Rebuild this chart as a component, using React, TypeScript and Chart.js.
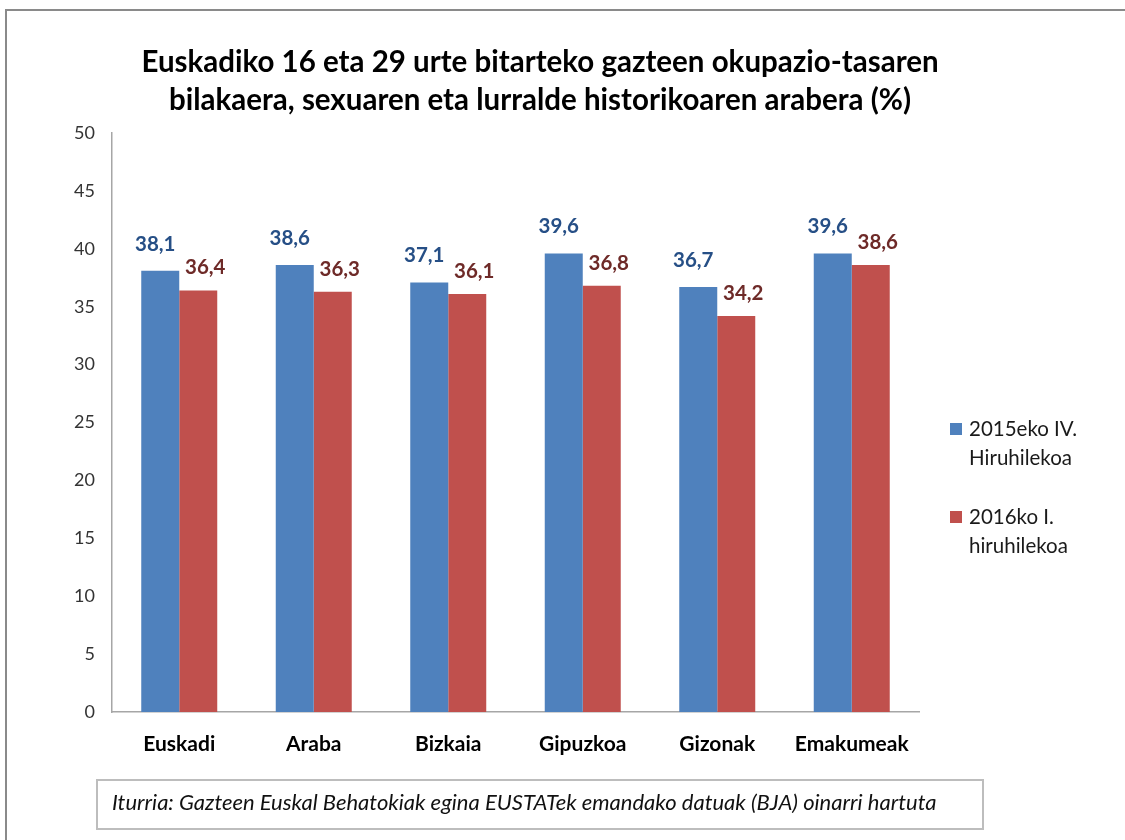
import React, { useEffect, useRef } from "react";
import { Chart, registerables } from "chart.js";

Chart.register(...registerables);

const categories = ["Euskadi", "Araba", "Bizkaia", "Gipuzkoa", "Gizonak", "Emakumeak"];
const series2015 = [38.1, 38.6, 37.1, 39.6, 36.7, 39.6];
const series2016 = [36.4, 36.3, 36.1, 36.8, 34.2, 38.6];
const seriesNames = [["2015eko IV.", "Hiruhilekoa"], ["2016ko I.", "hiruhilekoa"]];
const titleLines = [
  "Euskadiko 16 eta 29 urte bitarteko gazteen okupazio-tasaren",
  "bilakaera, sexuaren eta lurralde historikoaren arabera (%)",
];
const footnote = "Iturria: Gazteen Euskal Behatokiak egina EUSTATek emandako datuak (BJA) oinarri hartuta";

const BLUE = "#4F81BD";
const RED = "#C0504D";
const BLUE_LABEL = "#264F86";
const RED_LABEL = "#6E2A28";
const FONT = "Lato, 'Open Sans', sans-serif";

const fmt = (v: number) => v.toFixed(1).replace(".", ",");

const decorPlugin = {
  id: "decor",
  beforeDraw(chart: any) {
    const ctx = chart.ctx;
    ctx.save();
    ctx.fillStyle = "#ffffff";
    ctx.fillRect(0, 0, chart.width, chart.height);
    ctx.strokeStyle = "#8a8a8a";
    ctx.lineWidth = 2;
    ctx.beginPath();
    ctx.moveTo(6, 1200);
    ctx.lineTo(6, 10);
    ctx.lineTo(1200, 10);
    ctx.stroke();
    ctx.restore();
  },
  afterDraw(chart: any) {
    const ctx = chart.ctx;
    ctx.save();
    // title
    ctx.fillStyle = "#000000";
    ctx.font = `bold 29.5px ${FONT}`;
    ctx.textAlign = "center";
    ctx.textBaseline = "middle";
    ctx.fillText(titleLines[0], 540, 62);
    ctx.fillText(titleLines[1], 540, 100);

    // data labels
    ctx.font = `bold 20.5px ${FONT}`;
    ctx.textBaseline = "alphabetic";
    const cfg = [
      { ds: 0, color: BLUE_LABEL, dx: -5, gap: 20 },
      { ds: 1, color: RED_LABEL, dx: 7, gap: 16 },
    ];
    cfg.forEach((c) => {
      const meta = chart.getDatasetMeta(c.ds);
      const data = chart.data.datasets[c.ds].data as number[];
      meta.data.forEach((bar: any, i: number) => {
        ctx.fillStyle = c.color;
        ctx.fillText(fmt(data[i]), bar.x + c.dx, bar.y - c.gap);
      });
    });

    // legend
    ctx.textAlign = "left";
    ctx.textBaseline = "middle";
    ctx.font = `20.5px ${FONT}`;
    const legendY = [429, 517];
    const colors = [BLUE, RED];
    legendY.forEach((y, k) => {
      ctx.fillStyle = colors[k];
      ctx.fillRect(950, y - 6, 12, 12);
      ctx.fillStyle = "#1a1a1a";
      ctx.fillText(seriesNames[k][0], 969, y);
      ctx.fillText(seriesNames[k][1], 969, y + 29);
    });

    // footnote box
    ctx.strokeStyle = "#bdbdbd";
    ctx.lineWidth = 2;
    ctx.strokeRect(97, 780, 886, 49);
    ctx.fillStyle = "#111111";
    ctx.font = `italic 22px ${FONT}`;
    ctx.fillText(footnote, 112, 803);
    ctx.restore();
  },
};

export default function App() {
  const ref = useRef<HTMLCanvasElement>(null);
  useEffect(() => {
    const chart = new Chart(ref.current as HTMLCanvasElement, {
      type: "bar",
      data: {
        labels: categories,
        datasets: [
          { label: seriesNames[0].join(" "), data: series2015, backgroundColor: BLUE, categoryPercentage: 0.565, barPercentage: 1 },
          { label: seriesNames[1].join(" "), data: series2016, backgroundColor: RED, categoryPercentage: 0.565, barPercentage: 1 },
        ],
      },
      options: {
        animation: false,
        responsive: false,
        maintainAspectRatio: false,
        layout: { padding: { left: 0, top: 133, right: 206, bottom: 0 } },
        plugins: { legend: { display: false }, title: { display: false }, tooltip: { enabled: false } },
        scales: {
          x: {
            grid: { display: false, drawTicks: false },
            border: { display: true, color: "#a6a6a6", width: 1.5 },
            ticks: { padding: 20, color: "#000", font: { family: FONT, size: 21, weight: "bold" } },
            afterFit: (s: any) => { s.height = 128; },
          },
          y: {
            min: 0,
            max: 50,
            grid: { display: false, drawTicks: false },
            border: { display: true, color: "#a6a6a6", width: 1.5 },
            ticks: { stepSize: 5, padding: 17, color: "#333", font: { family: FONT, size: 18 } },
            afterFit: (s: any) => { s.width = 112; },
          },
        },
      },
      plugins: [decorPlugin],
    } as any);
    return () => chart.destroy();
  }, []);
  return (
    <div style={{ position: "absolute", left: 0, top: 0, width: 1125, height: 840 }}>
      <canvas ref={ref} width={1125} height={840} style={{ width: 1125, height: 840, display: "block" }} />
    </div>
  );
}
